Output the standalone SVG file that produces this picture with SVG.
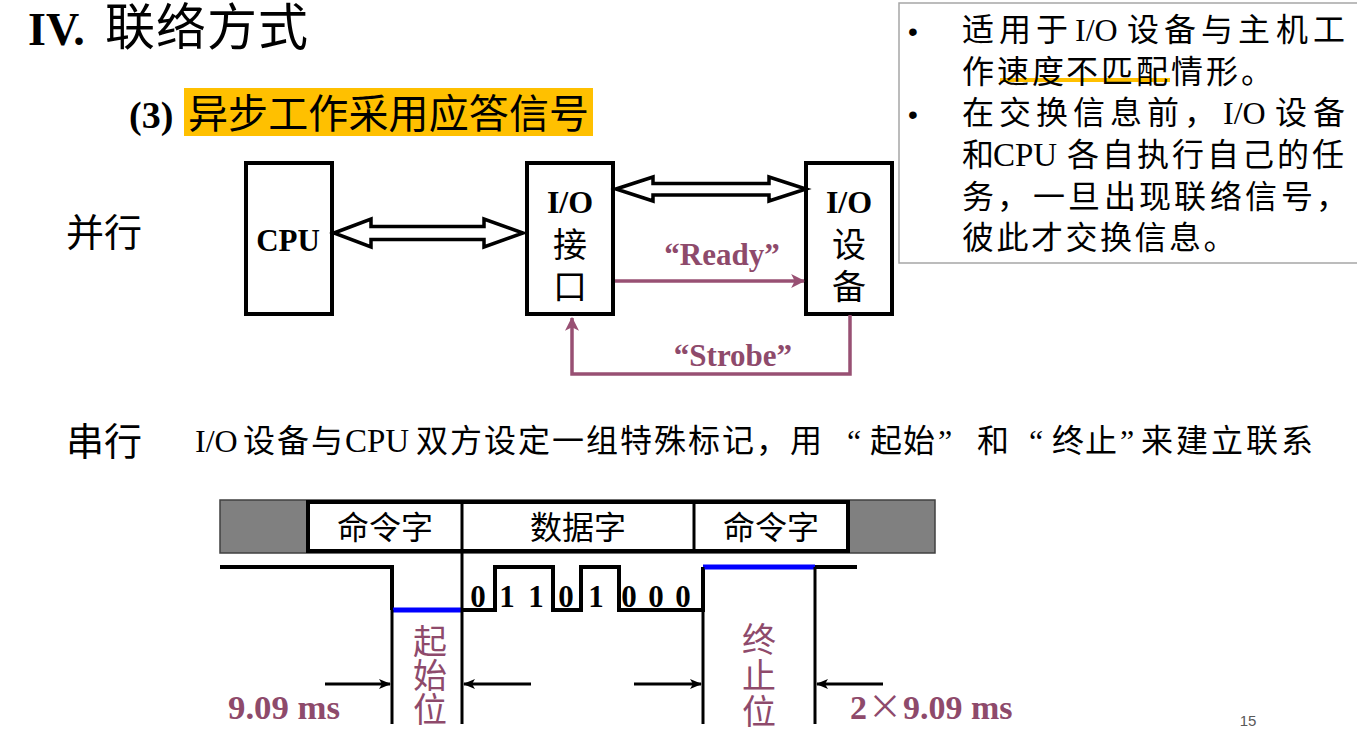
<svg xmlns="http://www.w3.org/2000/svg" width="1357" height="732" viewBox="0 0 1357 732">
<defs>
<style>
.cjk{font-family:"Liberation Serif","Noto Sans CJK SC",serif;}
.b{font-weight:bold;}
.box{fill:#fff;stroke:#000;stroke-width:4;}
.hollow{fill:#fff;stroke:#000;stroke-width:3.5;stroke-linejoin:miter;}
.sig{fill:none;stroke:#985073;stroke-width:3.5;}
.pur{fill:#8E4A6B;}
.wave{fill:none;stroke:#000;stroke-width:4;}
.blue{fill:none;stroke:#0000FF;stroke-width:5;}
.guide{fill:none;stroke:#000;stroke-width:3;}
.dim{fill:none;stroke:#000;stroke-width:3;}
</style>
<marker id="mp" viewBox="0 0 12 12" refX="11" refY="6" markerWidth="4" markerHeight="4" orient="auto" markerUnits="strokeWidth">
<path d="M0,0 L12,6 L0,12 L3,6 Z" fill="#985073"/>
</marker>
<marker id="mk" viewBox="0 0 12 12" refX="11" refY="6" markerWidth="4" markerHeight="4" orient="auto" markerUnits="strokeWidth">
<path d="M0,1 L12,6 L0,11 L3,6 Z" fill="#000"/>
</marker>
</defs>
<rect width="1357" height="732" fill="#fff"/>

<g id="title">
<text y="45" class="cjk" font-size="46"><tspan x="28" class="b">IV.</tspan><tspan x="105 156 207 258" font-size="50">联络方式</tspan></text>
</g>

<g id="subtitle">
<rect x="184" y="88" width="409" height="48" fill="#FFC000"/>
<text x="129" y="128" class="cjk b" font-size="38">(3)</text>
<text x="188" y="128" class="cjk" font-size="40" textLength="401" lengthAdjust="spacing">异步工作采用应答信号</text>
</g>

<g id="notes">
<rect x="899" y="3" width="470" height="260" fill="#fff" stroke="#A6A6A6" stroke-width="1.5"/>
<rect x="1000" y="78" width="170" height="4" fill="#FFC000"/>
<text x="908" y="41" font-family="Liberation Sans,sans-serif" font-size="28">•</text>
<text x="908" y="124" font-family="Liberation Sans,sans-serif" font-size="28">•</text>
<g class="cjk" font-size="32">
<text y="41"><tspan x="962 999 1036">适用于</tspan><tspan x="1075">I/O</tspan><tspan x="1127 1164 1201 1238 1276 1313">设备与主机工</tspan></text>
<text y="83" x="962 997 1032 1066 1101 1136 1171 1206 1241">作速度不匹配情形。</text>
<text y="124"><tspan x="962 999 1036 1073 1110 1147 1184">在交换信息前，</tspan><tspan x="1223">I/O</tspan><tspan x="1275 1313">设备</tspan></text>
<text y="166"><tspan x="962">和</tspan><tspan x="993" font-size="33">CPU</tspan><tspan x="1067 1102 1137 1172 1207 1242 1277 1312">各自执行自己的任</tspan></text>
<text y="208" x="962 997 1033 1068 1104 1139 1174 1210 1245 1281 1316">务，一旦出现联络信号，</text>
<text y="249" x="962 996.5 1031 1065.5 1100 1134.5 1169 1203.5">彼此才交换信息。</text>
</g>
</g>

<g id="label-parallel">
<text x="66" y="246" class="cjk" font-size="38">并行</text>
</g>

<g id="cpu">
<rect x="246" y="163" width="86" height="151" class="box"/>
<text x="288" y="251" class="cjk b" font-size="31" text-anchor="middle">CPU</text>
</g>

<g id="io-interface">
<rect x="527" y="163" width="86" height="151" class="box"/>
<text x="570" y="213" class="cjk b" font-size="32" text-anchor="middle">I/O</text>
<text x="570" y="257" class="cjk" font-size="34" text-anchor="middle">接</text>
<text x="570" y="299" class="cjk" font-size="34" text-anchor="middle">口</text>
</g>

<g id="io-device">
<rect x="806" y="163" width="86" height="151" class="box"/>
<text x="849" y="213" class="cjk b" font-size="32" text-anchor="middle">I/O</text>
<text x="849" y="257" class="cjk" font-size="34" text-anchor="middle">设</text>
<text x="849" y="299" class="cjk" font-size="34" text-anchor="middle">备</text>
</g>

<g id="connectors">
<polygon class="hollow" points="334,233 371,219 371,226.5 484,226.5 484,219 523,233 484,247 484,239.5 371,239.5 371,247"/>
<polygon class="hollow" points="616,189 653,177 653,183.5 769,183.5 769,177 806,189 769,201 769,195 653,195 653,201"/>
<line x1="615" y1="281" x2="804" y2="281" class="sig" marker-end="url(#mp)"/>
<text x="722" y="265" class="cjk b pur" font-size="31" text-anchor="middle">“Ready”</text>
<polyline points="850,315 850,374 572,374 572,318" class="sig" marker-end="url(#mp)"/>
<text x="733" y="366" class="cjk b pur" font-size="31" text-anchor="middle">“Strobe”</text>
</g>

<g id="label-serial">
<text x="66" y="455" class="cjk" font-size="38">串行</text>
<text y="452" class="cjk" font-size="32"><tspan x="195">I/O</tspan><tspan x="243 277 311">设备与</tspan><tspan x="345" font-size="33">CPU</tspan><tspan x="416 450 484 518 552 586 620 654 688 722 756 790">双方设定一组特殊标记，用</tspan><tspan x="847">“</tspan><tspan x="870 903">起始</tspan><tspan x="938">”</tspan><tspan x="977">和</tspan><tspan x="1029">“</tspan><tspan x="1052 1085">终止</tspan><tspan x="1120">”</tspan><tspan x="1141 1176 1211 1246 1281">来建立联系</tspan></text>
</g>

<g id="frame">
<rect x="220" y="500" width="715" height="53" fill="#808080" stroke="#404040" stroke-width="1.5"/>
<rect x="308" y="502" width="540" height="49" fill="#fff" stroke="#000" stroke-width="4"/>
<line x1="462" y1="502" x2="462" y2="551" stroke="#000" stroke-width="3"/>
<line x1="694" y1="502" x2="694" y2="551" stroke="#000" stroke-width="3"/>
<text x="385" y="539" class="cjk" font-size="32" text-anchor="middle">命令字</text>
<text x="578" y="539" class="cjk" font-size="32" text-anchor="middle">数据字</text>
<text x="771" y="539" class="cjk" font-size="32" text-anchor="middle">命令字</text>
</g>

<g id="waveform">
<polyline class="wave" points="220,567 392,567 392,610"/>
<line class="blue" x1="393" y1="610" x2="462" y2="610"/>
<polyline class="wave" points="462,610 495,610 495,567 553,567 553,610 581,610 581,567 619,567 619,610 703,610 703,567"/>
<line class="blue" x1="703" y1="567" x2="815" y2="567"/>
<line class="wave" x1="815" y1="567" x2="857" y2="567"/>
<line class="guide" x1="392" y1="610" x2="392" y2="724"/>
<line class="guide" x1="462" y1="551" x2="462" y2="724"/>
<line class="guide" x1="703" y1="567" x2="703" y2="724"/>
<line class="guide" x1="815" y1="567" x2="815" y2="724"/>
<g class="cjk b" font-size="31" text-anchor="middle">
<text x="478" y="607">0</text>
<text x="507" y="607">1</text>
<text x="536" y="607">1</text>
<text x="566" y="607">0</text>
<text x="596" y="607">1</text>
<text x="629" y="607">0</text>
<text x="656" y="607">0</text>
<text x="683" y="607">0</text>
</g>
</g>

<g id="timing">
<line class="dim" x1="325" y1="684" x2="390" y2="684" marker-end="url(#mk)"/>
<line class="dim" x1="531" y1="684" x2="464" y2="684" marker-end="url(#mk)"/>
<line class="dim" x1="634" y1="684" x2="701" y2="684" marker-end="url(#mk)"/>
<line class="dim" x1="883" y1="684" x2="817" y2="684" marker-end="url(#mk)"/>
<text x="228" y="719" class="cjk b pur" font-size="34" textLength="112" lengthAdjust="spacingAndGlyphs">9.09 ms</text>
<text y="719" class="cjk b pur" font-size="34"><tspan x="850">2</tspan><tspan x="868" font-family="Noto Sans CJK SC,sans-serif" font-weight="normal">×</tspan><tspan x="903">9.09 ms</tspan></text>
<g class="cjk pur" font-size="34" text-anchor="middle">
<text x="430" y="654">起</text>
<text x="430" y="688">始</text>
<text x="430" y="722">位</text>
<text x="759" y="652">终</text>
<text x="759" y="688">止</text>
<text x="759" y="724">位</text>
</g>
</g>

<g id="page-number">
<text x="1248" y="726" font-family="Liberation Sans,sans-serif" font-size="15" fill="#595959" text-anchor="middle">15</text>
</g>
</svg>
